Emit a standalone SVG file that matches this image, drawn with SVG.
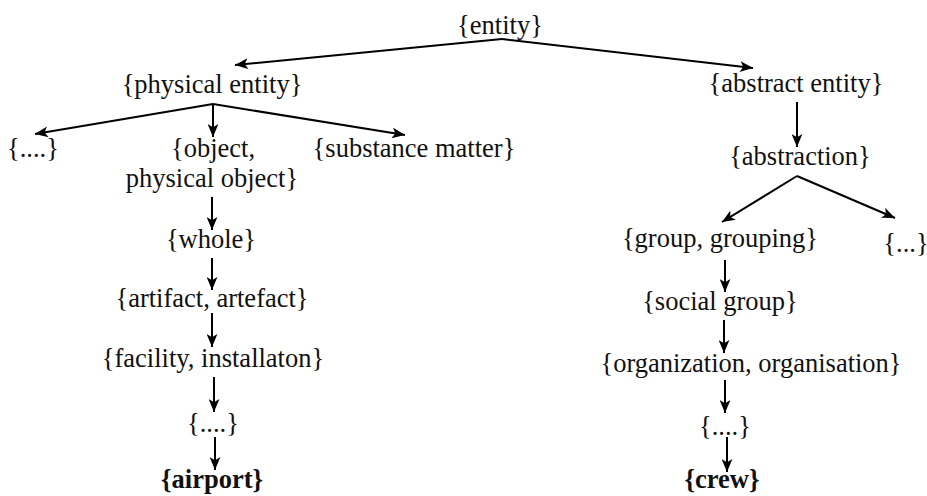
<svg xmlns="http://www.w3.org/2000/svg" width="927" height="496" viewBox="0 0 927 496">
<style>
text{font-family:'Liberation Serif','Times New Roman',Times,serif;font-size:26.5px;fill:#111;text-anchor:middle}
.b{font-weight:bold}
.c{stroke:#000;stroke-width:2;fill:none;marker-end:url(#ah)}
</style>
<defs>
<marker id="ah" viewBox="0 0 12 10" refX="12" refY="5" markerWidth="13" markerHeight="11" markerUnits="userSpaceOnUse" orient="auto">
<path d="M0,0 L12,5 L0,10 L3,5 z" fill="#000"/>
</marker>
</defs>
<rect width="927" height="496" fill="#fff"/>
<g id="connectors">
<path class="c" d="M502,39 L235,65"/>
<path class="c" d="M502,39 L753,68"/>
<path class="c" d="M213,104 L35,134"/>
<path class="c" d="M213,104 L213,137"/>
<path class="c" d="M213,104 L405,135"/>
<path class="c" d="M797,102 L797,147"/>
<path class="c" d="M797,176 L722,222"/>
<path class="c" d="M797,176 L895,218"/>
<path class="c" d="M212,197 L212,230"/>
<path class="c" d="M212,258 L212,290"/>
<path class="c" d="M212,313 L212,347"/>
<path class="c" d="M214,377 L214,412"/>
<path class="c" d="M215,437 L215,470"/>
<path class="c" d="M725,260 L725,292"/>
<path class="c" d="M724,320 L724,353"/>
<path class="c" d="M725,380 L725,413"/>
<path class="c" d="M727,437 L727,472"/>
</g>
<g id="n-entity"><text x="500" y="34">{entity}</text></g>
<g id="n-physical"><text x="212" y="93">{physical entity}</text></g>
<g id="n-abstract"><text x="796" y="92">{abstract entity}</text></g>
<g id="n-dots1"><text x="33" y="157">{....}</text></g>
<g id="n-object"><text x="213" y="157">{object,</text><text x="212" y="187">physical object}</text></g>
<g id="n-substance"><text x="414" y="157">{substance matter}</text></g>
<g id="n-abstraction"><text x="800" y="165">{abstraction}</text></g>
<g id="n-group"><text x="720" y="247">{group, grouping}</text></g>
<g id="n-dots2"><text x="906" y="252">{...}</text></g>
<g id="n-whole"><text x="211" y="248">{whole}</text></g>
<g id="n-artifact"><text x="212" y="307">{artifact, artefact}</text></g>
<g id="n-social"><text x="720" y="310">{social group}</text></g>
<g id="n-facility"><text x="213" y="367">{facility, installaton}</text></g>
<g id="n-org"><text x="751" y="372">{organization, organisation}</text></g>
<g id="n-dots3"><text x="213" y="432">{....}</text></g>
<g id="n-dots4"><text x="725" y="435">{....}</text></g>
<g id="n-airport"><text class="b" x="212" y="488">{airport}</text></g>
<g id="n-crew"><text class="b" x="722" y="488">{crew}</text></g>
</svg>
